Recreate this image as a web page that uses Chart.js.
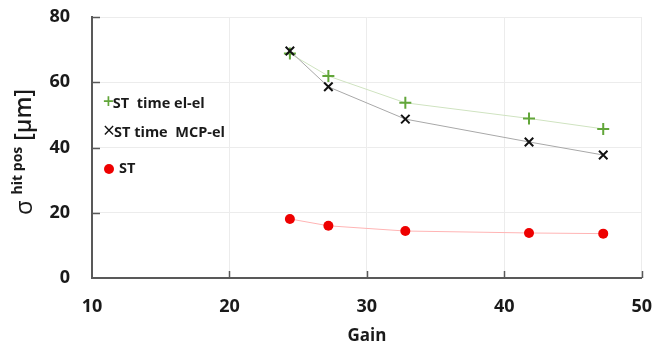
<!DOCTYPE html>
<html>
<head>
<meta charset="utf-8">
<script src="https://cdn.jsdelivr.net/npm/chart.js@4.4.1/dist/chart.umd.min.js"></script>
<style>
  html, body { margin: 0; padding: 0; background: #ffffff; }
  #wrap { width: 670px; height: 347px; position: relative; }
</style>
</head>
<body>
<div id="wrap"><canvas id="c" width="670" height="347"></canvas></div>
<script>
// ---- data ----
const gain   = [24.4, 27.2, 32.8, 41.8, 47.2];
const elEl   = [68.8, 61.9, 53.7, 48.9, 45.7];
const mcpEl  = [69.6, 58.6, 48.7, 41.7, 37.7];
const stOnly = [18.1, 16.0, 14.4, 13.8, 13.6];
const xTicks = [10, 20, 30, 40, 50];
const yTicks = [0, 20, 40, 60, 80];
const seriesLabels = ['ST  time el-el', 'ST time  MCP-el', 'ST'];

const pts = (ys) => gain.map((g, i) => ({ x: g, y: ys[i] }));

const FONT = "'Open Sans', 'Liberation Sans', sans-serif";
const AXIS = '#595959';

const legendMarks = ['+', '\u00D7', '\u25CF'];

const extras = {
  id: 'extras',
  beforeDatasetsDraw(chart) {
    const { ctx, chartArea: a, scales: { x, y } } = chart;
    ctx.save();
    ctx.strokeStyle = AXIS;
    ctx.lineWidth = 1.5;
    xTicks.slice(1).forEach(v => {
      const px = Math.round(x.getPixelForValue(v)) + 0.5;
      ctx.beginPath(); ctx.moveTo(px, a.bottom); ctx.lineTo(px, a.bottom - 7); ctx.stroke();
    });
    yTicks.slice(1).forEach(v => {
      const py = Math.round(y.getPixelForValue(v)) + 0.5;
      ctx.beginPath(); ctx.moveTo(a.left, py); ctx.lineTo(a.left + 8, py); ctx.stroke();
    });
    ctx.restore();
  },
  afterDraw(chart) {
    const { ctx } = chart;
    ctx.save();
    // legend inside plot area
    const rows = [103, 132, 168];
    chart.data.datasets.forEach((ds, i) => {
      const yy = rows[i];
      let xx = 104;
      ctx.textBaseline = 'middle';
      ctx.textAlign = 'left';
      if (i === 2) {
        ctx.fillStyle = ds.pointBackgroundColor;
        ctx.beginPath(); ctx.arc(xx + 5, yy + 1, 5, 0, Math.PI * 2); ctx.fill();
        xx += 15;
      } else {
        ctx.font = (i === 0 ? '600 19px ' : '400 21px ') + FONT;
        ctx.fillStyle = ds.pointBorderColor;
        ctx.fillText(legendMarks[i], xx - 1, yy);
        xx += ctx.measureText(legendMarks[i]).width - 2;
      }
      ctx.font = 'bold 14.5px ' + FONT;
      ctx.fillStyle = '#1a1a1a';
      ctx.fillText(ds.label, xx, yy + 1);
    });

    // y axis title with superscript
    ctx.translate(32, 152);
    ctx.rotate(-Math.PI / 2);
    ctx.textBaseline = 'alphabetic';
    ctx.textAlign = 'left';
    const p1 = '\u03C3', p2 = 'hit pos', p3 = '[\u03BCm]';
    const f1 = '400 24px ' + FONT, f2 = 'bold 14px ' + FONT, f3 = '600 23px ' + FONT;
    ctx.font = f1; const w1 = ctx.measureText(p1).width;
    ctx.font = f2; const w2 = ctx.measureText(p2).width;
    ctx.font = f3; const w3 = ctx.measureText(p3).width;
    const gap1 = 6, gap2 = 6;
    const total = w1 + gap1 + w2 + gap2 + w3;
    let cx = -total / 2;
    ctx.fillStyle = '#1a1a1a';
    ctx.font = f1; ctx.fillText(p1, cx, 0); cx += w1 + gap1;
    ctx.font = f2; ctx.fillText(p2, cx, -10); cx += w2 + gap2;
    ctx.font = f3; ctx.fillText(p3, cx, -1);
    ctx.restore();
  }
};

new Chart(document.getElementById('c'), {
  type: 'scatter',
  data: {
    datasets: [
      {
        label: seriesLabels[0],
        data: pts(elEl),
        showLine: true,
        borderColor: '#cfe3c0',
        borderWidth: 1,
        pointStyle: 'cross',
        pointRadius: 6,
        pointBorderWidth: 2,
        pointBorderColor: '#62a63a',
        pointBackgroundColor: '#62a63a',
        order: 3
      },
      {
        label: seriesLabels[1],
        data: pts(mcpEl),
        showLine: true,
        borderColor: '#a8a8a8',
        borderWidth: 1,
        pointStyle: 'crossRot',
        pointRadius: 6,
        pointBorderWidth: 2,
        pointBorderColor: '#111111',
        pointBackgroundColor: '#111111',
        order: 1
      },
      {
        label: seriesLabels[2],
        data: pts(stOnly),
        showLine: true,
        borderColor: '#ffb4b4',
        borderWidth: 1,
        pointStyle: 'circle',
        pointRadius: 5,
        pointBorderWidth: 0,
        pointBorderColor: '#ee0000',
        pointBackgroundColor: '#ee0000',
        order: 2
      }
    ]
  },
  options: {
    responsive: false,
    animation: false,
    layout: { padding: { top: 17, right: 27, left: 0, bottom: 0 } },
    plugins: {
      legend: { display: false },
      tooltip: { enabled: false }
    },
    scales: {
      x: {
        type: 'linear',
        min: 10, max: 50,
        afterBuildTicks: (s) => { s.ticks = xTicks.map(v => ({ value: v })); },
        afterFit: (s) => { s.height = 69; },
        grid: { color: '#ececec', lineWidth: 1, drawTicks: false },
        border: { color: AXIS, width: 2 },
        ticks: { color: '#1a1a1a', font: { family: FONT, size: 18, weight: 'bold' }, padding: 18, maxRotation: 0 },
        title: { display: true, text: 'Gain', color: '#1a1a1a', font: { family: FONT, size: 17, weight: 'bold' }, padding: { top: 0, bottom: 1 } }
      },
      y: {
        type: 'linear',
        min: 0, max: 80,
        afterBuildTicks: (s) => { s.ticks = yTicks.map(v => ({ value: v })); },
        afterFit: (s) => { s.width = 92; s.paddingTop = 0; s.paddingBottom = 0; },
        grid: { color: '#ececec', lineWidth: 1, drawTicks: false },
        border: { color: AXIS, width: 2 },
        ticks: { color: '#1a1a1a', font: { family: FONT, size: 18, weight: 'bold' }, padding: 22 }
      }
    }
  },
  plugins: [extras]
});
</script>
</body>
</html>
